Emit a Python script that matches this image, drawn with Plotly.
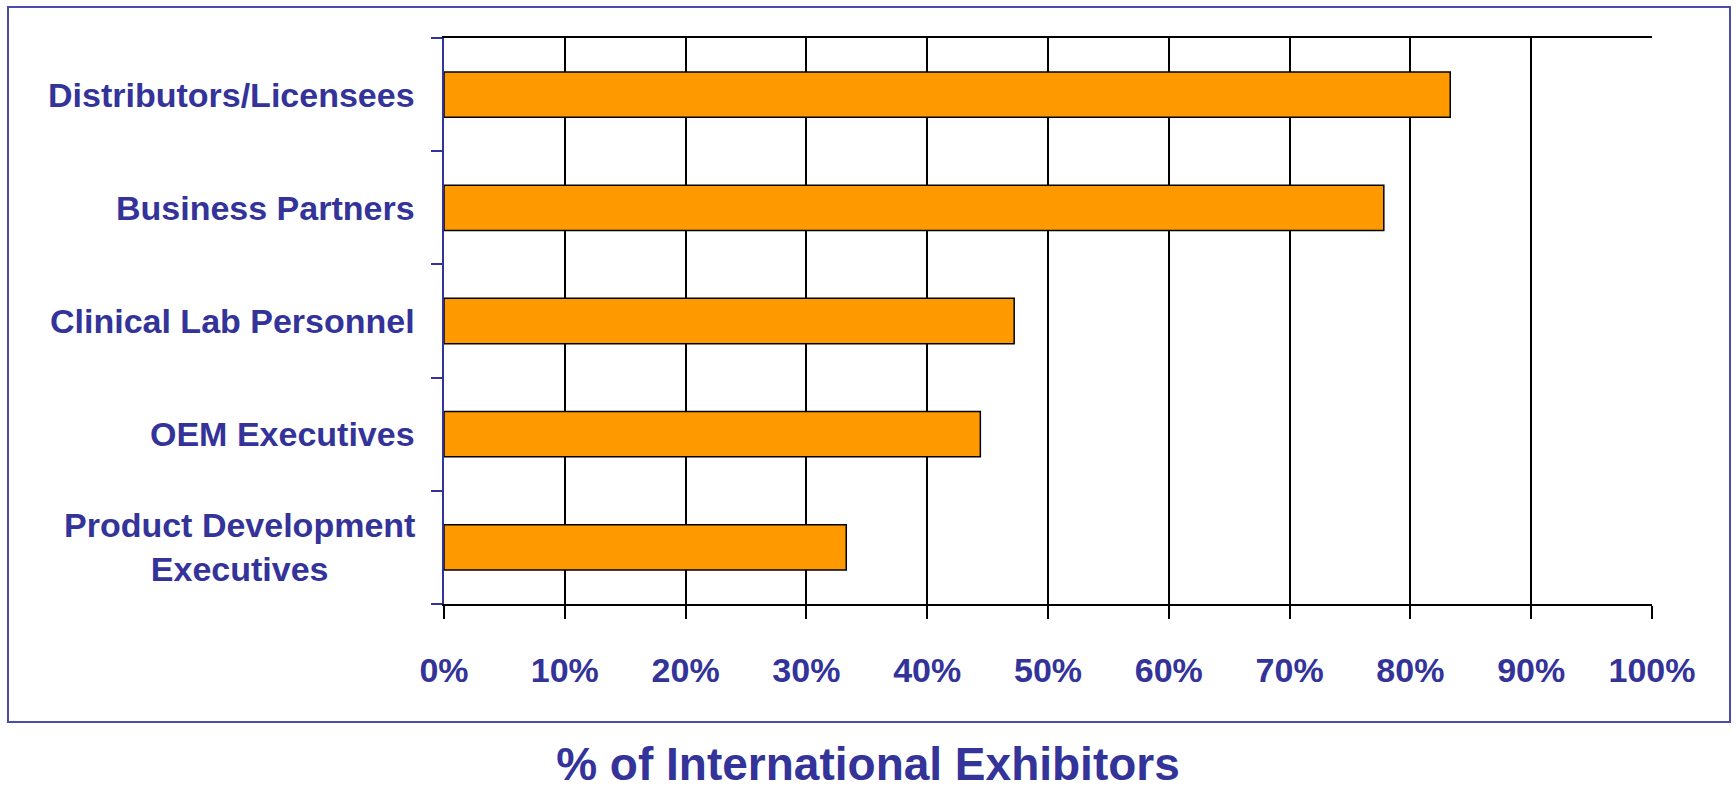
import plotly.graph_objects as go

# Survey results: share of international exhibitors per target audience
categories = [
    "Distributors/Licensees",
    "Business Partners",
    "Clinical Lab Personnel",
    "OEM Executives",
    "Product Development<br>Executives",
]
share_pct = [83.3, 77.8, 47.2, 44.4, 33.3]
x_ticks = [0, 10, 20, 30, 40, 50, 60, 70, 80, 90, 100]
x_tick_labels = [f"{v}%" for v in x_ticks]
axis_title = "% of International Exhibitors"

NAVY = "#333399"
FRAME = "#4B4BAA"
ORANGE = "#FF9900"
FONT = "Liberation Sans, Arial, sans-serif"

W, H = 1736, 789
L, R, T, B = 444, 84, 38, 185
pw, ph = W - L - R, H - T - B

fig = go.Figure(
    go.Bar(
        x=share_pct,
        y=categories,
        orientation="h",
        marker=dict(color=ORANGE, line=dict(color="#000000", width=1.5)),
        hoverinfo="x+y",
    )
)

# Category labels, centred line by line to the left of the axis
for cat in categories:
    fig.add_annotation(
        x=0, xref="paper", y=cat, yref="y",
        text=cat, showarrow=False,
        xanchor="right", yanchor="middle", align="center",
        xshift=-27,
        font=dict(family=FONT, size=34, color=NAVY, weight="bold"),
    )

# Outer frame around the chart body
fig.add_shape(
    type="rect", xref="paper", yref="paper",
    x0=(8 - L) / pw, x1=(1730 - L) / pw,
    y0=(H - B - 722) / ph, y1=(H - B - 7) / ph,
    line=dict(color=FRAME, width=2), layer="below",
)

fig.update_layout(
    width=W, height=H,
    margin=dict(l=L, r=R, t=T, b=B, pad=0),
    paper_bgcolor="white", plot_bgcolor="white",
    bargap=0.6,
    showlegend=False,
    title=dict(
        text=axis_title, x=0.5, xanchor="center",
        y=(H - 764) / H, yanchor="middle", yref="container",
        font=dict(family=FONT, size=46, color=NAVY, weight="bold"),
    ),
    xaxis=dict(
        range=[0, 100], tickvals=x_ticks, ticktext=x_tick_labels,
        showgrid=True, gridcolor="#000000", gridwidth=1.5,
        showline=True, linecolor="#000000", linewidth=2, mirror=True,
        ticks="outside", ticklen=13, tickwidth=1.5, tickcolor="#000000",
        ticklabelstandoff=22,
        tickfont=dict(family=FONT, size=34, color=NAVY, weight="bold"),
        zeroline=False, fixedrange=True,
    ),
    yaxis=dict(
        categoryorder="array", categoryarray=categories[::-1],
        showticklabels=False, showgrid=False,
        showline=True, linecolor=NAVY, linewidth=2,
        ticks="outside", tickson="boundaries", ticklen=11,
        tickwidth=2, tickcolor=NAVY,
        zeroline=False, fixedrange=True,
    ),
)

fig.write_html("out.html")
